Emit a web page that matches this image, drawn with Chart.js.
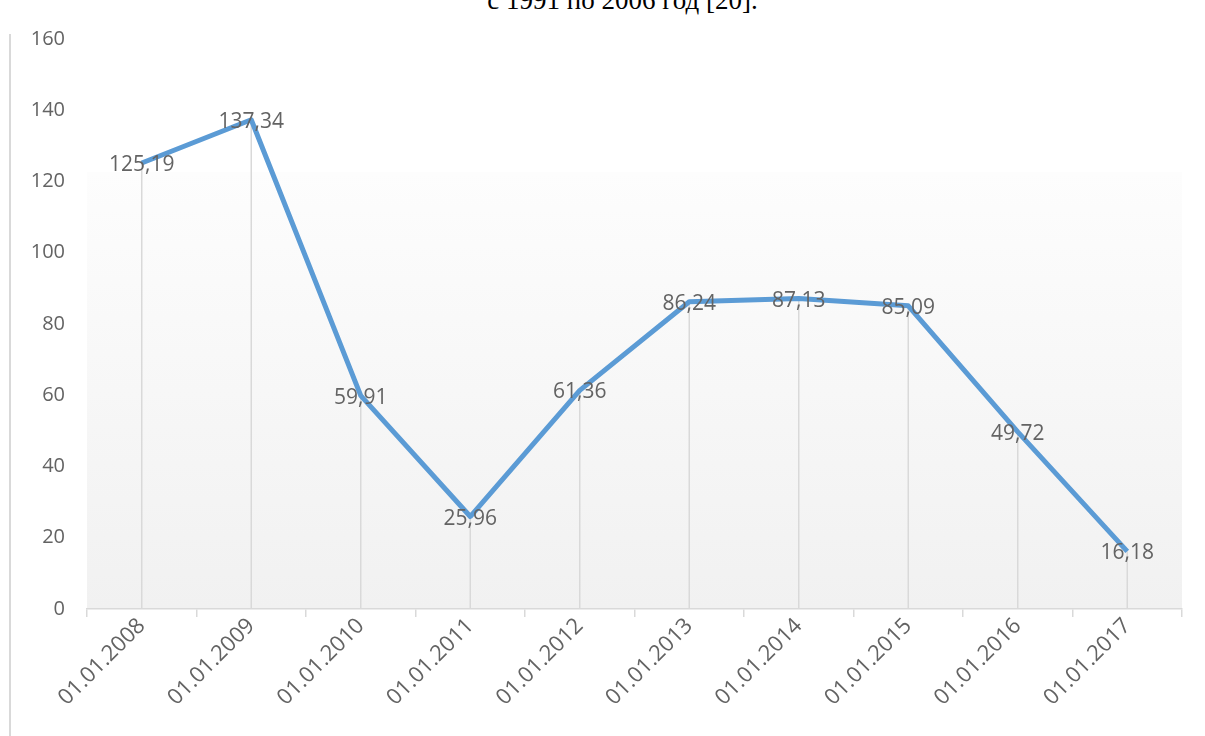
<!DOCTYPE html>
<html>
  <head>
    <script src="https://cdn.jsdelivr.net/npm/chart.js"></script>
    <style>
      html, body { margin: 0; padding: 0; background: #fff; overflow: hidden; }
      #wrap { position: relative; width: 1205px; height: 736px; }
      #frame { position: absolute; left: 9px; top: 34px; width: 0; height: 702px; border-left: 2px solid #d9d9d9; }
      #title { position: absolute; left: 0; width: 1245px; top: -15px; text-align: center;
               font-family: "Liberation Serif", serif; font-size: 27px; color: #000; white-space: nowrap; }
      canvas { position: absolute; left: 0; top: 0; }
    </style>
  </head>
  <body>
    <div id="wrap">
      <div id="title">с 1991 по 2006 год [20].</div>
      <div id="frame"></div>
      <canvas id="Chart" width="1205" height="736"></canvas>
    </div>
    <script>
      const labels = ["01.01.2008", "01.01.2009", "01.01.2010", "01.01.2011", "01.01.2012",
                      "01.01.2013", "01.01.2014", "01.01.2015", "01.01.2016", "01.01.2017"];
      const values = [125.19, 137.34, 59.91, 25.96, 61.36, 86.24, 87.13, 85.09, 49.72, 16.18];
      const yTicks = [0, 20, 40, 60, 80, 100, 120, 140, 160];

      const gray = "#636363";
      const fontName = "'Open Sans', 'Noto Sans', sans-serif";

      // light gradient behind the plot, starting a bit below the top
      const backdrop = {
        id: "backdrop",
        beforeDraw(chart) {
          const { ctx, chartArea: a } = chart;
          const top = a.top + (a.bottom - a.top) * 0.233;
          const g = ctx.createLinearGradient(0, top, 0, a.bottom);
          g.addColorStop(0, "#fdfdfd");
          g.addColorStop(1, "#f1f1f1");
          ctx.save();
          ctx.fillStyle = g;
          ctx.fillRect(a.left, top, a.right - a.left, a.bottom - top);
          ctx.restore();
        },
      };

      // vertical drop lines from each point to the axis
      const dropLines = {
        id: "dropLines",
        beforeDatasetsDraw(chart) {
          const { ctx } = chart;
          const yScale = chart.scales.y;
          const meta = chart.getDatasetMeta(0);
          ctx.save();
          ctx.strokeStyle = "#d9d9d9";
          ctx.lineWidth = 1.5;
          meta.data.forEach((pt) => {
            ctx.beginPath();
            ctx.moveTo(pt.x, pt.y);
            ctx.lineTo(pt.x, yScale.getPixelForValue(0));
            ctx.stroke();
          });
          ctx.restore();
        },
      };

      // value labels centred on the points, decimal comma
      const valueLabels = {
        id: "valueLabels",
        afterDatasetsDraw(chart) {
          const { ctx } = chart;
          const meta = chart.getDatasetMeta(0);
          ctx.save();
          ctx.font = "21px " + fontName;
          ctx.fillStyle = gray;
          ctx.textAlign = "center";
          ctx.textBaseline = "middle";
          meta.data.forEach((pt, i) => {
            ctx.fillText(values[i].toFixed(2).replace(".", ","), pt.x, pt.y + 2);
          });
          ctx.restore();
        },
      };

      new Chart(document.getElementById("Chart"), {
        type: "line",
        data: {
          labels: labels,
          datasets: [{
            data: values,
            borderColor: "#5b9bd5",
            borderWidth: 5,
            pointRadius: 0,
            tension: 0,
            borderJoinStyle: "round",
          }],
        },
        options: {
          responsive: false,
          animation: false,
          layout: { padding: { top: 39, right: 23, left: 0, bottom: 0 } },
          plugins: { legend: { display: false }, tooltip: { enabled: false } },
          scales: {
            x: {
              offset: true,
              grid: { offset: true, drawOnChartArea: false, color: "#d9d9d9", lineWidth: 1.5, tickLength: 8 },
              border: { color: "#d9d9d9", width: 1.5 },
              ticks: { color: gray, font: { size: 22, family: fontName }, minRotation: 45, maxRotation: 45, padding: -4 },
              afterFit(scale) { scale.height = 127; },
            },
            y: {
              min: 0,
              max: 160,
              afterBuildTicks(scale) { scale.ticks = yTicks.map((v) => ({ value: v })); },
              grid: { display: false, drawTicks: false },
              border: { display: false },
              ticks: { color: gray, font: { size: 20, family: fontName }, padding: 22 },
              afterFit(scale) { scale.width = 87; },
            },
          },
        },
        plugins: [backdrop, dropLines, valueLabels],
      });
    </script>
  </body>
</html>
